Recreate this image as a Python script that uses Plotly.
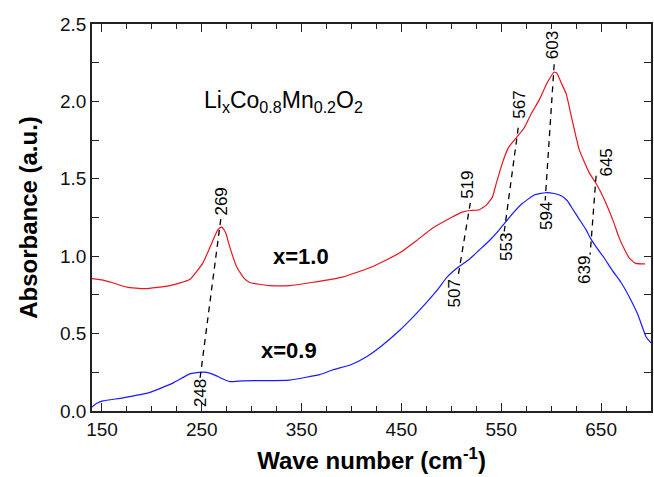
import plotly.graph_objects as go

# IR absorbance spectra of LixCo0.8Mn0.2O2
wn_x10 = [140, 151, 160, 175, 193, 218, 238, 251, 261, 266, 270, 274, 278, 285, 292, 298,
          318, 338, 360, 391, 420, 448, 465, 481, 500, 511, 519, 528, 535, 541, 545, 551,
          557, 563, 567, 573, 580, 588, 596, 603, 606, 610, 615, 621, 628, 638, 645, 650,
          655, 662, 668, 673, 678, 684, 690, 694]
abs_x10 = [0.855, 0.846, 0.83, 0.80, 0.79, 0.81, 0.85, 0.955, 1.10, 1.17, 1.19, 1.15, 1.06, 0.93,
           0.86, 0.83, 0.81, 0.81, 0.83, 0.865, 0.93, 1.02, 1.10, 1.18, 1.25, 1.285, 1.295,
           1.30, 1.33, 1.38, 1.47, 1.60, 1.70, 1.75, 1.78, 1.83, 1.92, 2.01, 2.12, 2.19, 2.18,
           2.12, 2.05, 1.88, 1.69, 1.54, 1.47, 1.41, 1.34, 1.23, 1.12, 1.05, 0.99, 0.955,
           0.95, 0.95]

wn_x09 = [140, 145, 151, 171, 198, 221, 238, 248, 255, 262, 270, 278, 291, 338, 368, 381,
          400, 415, 430, 448, 462, 475, 487, 495, 507, 518, 528, 538, 548, 553, 562, 571,
          583, 594, 603, 610, 616, 621, 628, 635, 639, 645, 653, 661, 670, 678, 687, 695, 700]
abs_x09 = [0.026, 0.05, 0.065, 0.085, 0.12, 0.18, 0.24, 0.25, 0.25, 0.235, 0.21, 0.19, 0.195,
           0.20, 0.235, 0.265, 0.30, 0.35, 0.42, 0.52, 0.61, 0.70, 0.79, 0.86, 0.93, 0.98,
           1.04, 1.10, 1.17, 1.21, 1.28, 1.34, 1.395, 1.41, 1.405, 1.39, 1.36, 1.31, 1.24,
           1.17, 1.12, 1.06, 0.99, 0.91, 0.83, 0.74, 0.62, 0.48, 0.44]

# band positions (cm-1) linked between the two spectra
peaks_x10 = [269, 519, 567, 603, 645]
peak_abs_x10 = [1.19, 1.295, 1.78, 2.19, 1.47]
peaks_x09 = [248, 507, 553, 594, 639]
peak_abs_x09 = [0.25, 0.93, 1.21, 1.41, 1.06]

x_ticks = [150, 250, 350, 450, 550, 650]
y_ticks = [0.0, 0.5, 1.0, 1.5, 2.0, 2.5]

FONT = "Liberation Sans"

fig = go.Figure()
fig.add_trace(go.Scatter(x=wn_x10, y=abs_x10, mode="lines",
                         line=dict(color="#e8141e", width=1.2, shape="spline", smoothing=0.4),
                         showlegend=False))
fig.add_trace(go.Scatter(x=wn_x09, y=abs_x09, mode="lines",
                         line=dict(color="#1a1aff", width=1.2, shape="spline", smoothing=0.4),
                         showlegend=False))

# dashed connectors between corresponding bands, drawn label to label
ext = 0.05
for xu, yu, xl, yl in zip(peaks_x10, peak_abs_x10, peaks_x09, peak_abs_x09):
    fig.add_trace(go.Scatter(x=[xu, xl], y=[yu + ext, yl - ext], mode="lines",
                             line=dict(color="black", width=1.3, dash="6px,5px"),
                             showlegend=False, hoverinfo="skip"))

# per-label nudges (px) for the rotated band labels
up_shift = {269: (1, 25), 519: (-3, 26), 567: (1, 31), 603: (-1, 27), 645: (10, 21)}
low_shift = {248: (0, -21), 507: (-4, -26), 553: (2, -23), 594: (2, -23), 639: (-5, -23)}

for xv, yv in zip(peaks_x10, peak_abs_x10):
    dx, dy = up_shift[xv]
    fig.add_annotation(x=xv, y=yv, text=str(xv), showarrow=False, textangle=-90,
                       xshift=dx, yshift=dy, font=dict(family=FONT, size=17, color="black"))
for xv, yv in zip(peaks_x09, peak_abs_x09):
    dx, dy = low_shift[xv]
    fig.add_annotation(x=xv, y=yv, text=str(xv), showarrow=False, textangle=-90,
                       xshift=dx, yshift=dy, font=dict(family=FONT, size=17, color="black"))

fig.add_annotation(x=349, y=1.0, text="x=1.0", showarrow=False,
                   font=dict(family=FONT, size=22, color="black", weight="bold"))
fig.add_annotation(x=337, y=0.39, text="x=0.9", showarrow=False,
                   font=dict(family=FONT, size=22, color="black", weight="bold"))
fig.add_annotation(x=332, y=2.0, showarrow=False,
                   text="Li<sub>x</sub>Co<sub>0.8</sub>Mn<sub>0.2</sub>O<sub>2</sub>",
                   font=dict(family=FONT, size=23, color="black"))

axis_common = dict(showline=True, linecolor="#222", linewidth=1.5, mirror="allticks",
                   ticks="inside", tickcolor="#222", tickwidth=1.3, showgrid=False,
                   zeroline=False, tickfont=dict(family=FONT, size=19, color="#111"))

fig.update_xaxes(range=[140, 700], tickvals=x_ticks, ticklen=8,
                 minor=dict(dtick=25, tick0=150, ticks="inside", ticklen=5,
                            tickcolor="#222", tickwidth=1.3),
                 title=dict(text="Wave number (cm<sup>-1</sup>)", standoff=14,
                            font=dict(family=FONT, size=24, color="black", weight="bold")),
                 **axis_common)
fig.update_yaxes(range=[0, 2.5], tickvals=y_ticks, tickformat=".1f", ticklen=7,
                 minor=dict(dtick=0.25, tick0=0, ticks="inside", ticklen=7,
                            tickcolor="#222", tickwidth=1.3),
                 title=dict(text="Absorbance (a.u.)", standoff=16,
                            font=dict(family=FONT, size=24, color="black", weight="bold")),
                 **axis_common)

fig.update_layout(width=654, height=477, paper_bgcolor="white", plot_bgcolor="white",
                  margin=dict(l=92, r=1, t=24, b=66), showlegend=False)

fig.write_html("out.html")
